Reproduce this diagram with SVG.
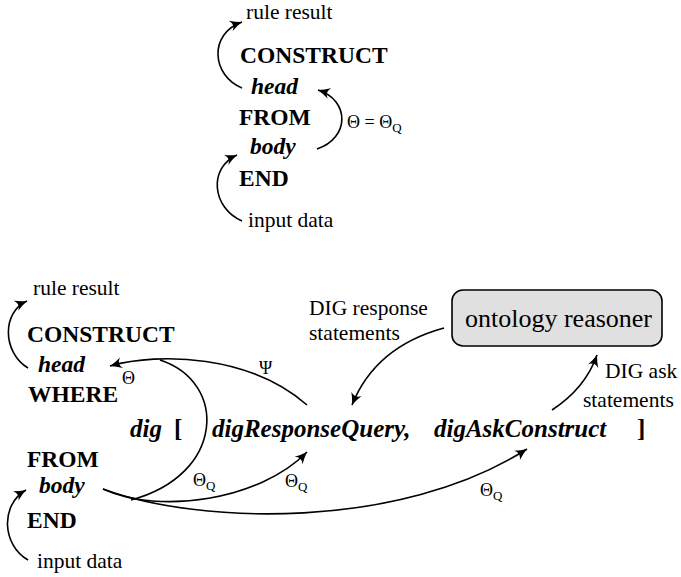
<svg xmlns="http://www.w3.org/2000/svg" width="681" height="577" viewBox="0 0 681 577" font-family="'Liberation Serif', 'Times New Roman', serif">
<defs>
<marker id="ah" markerWidth="14" markerHeight="12" refX="12" refY="6" orient="auto" markerUnits="userSpaceOnUse">
<path d="M0,0.5 Q6,4 12,6 Q6,8 0,11.5 Q5,6 0,0.5 Z" fill="#000"/>
</marker>
<style>
text{font-family:'Liberation Serif','Times New Roman',serif;fill:#000}
.kw{font-size:23.5px;font-weight:bold}
.var{font-size:23.5px;font-weight:bold;font-style:italic}
.dl{font-size:25px;font-weight:bold;font-style:italic}
.dlb{font-size:25px;font-weight:bold}
.lbl{font-size:21.5px}
.sym{font-size:18px}
.sub{font-size:13px}
.box{font-size:26px}
.c{fill:none;stroke:#000;stroke-width:1.6}
.a{fill:none;stroke:#000;stroke-width:1.6;marker-end:url(#ah)}
</style>
</defs>
<g id="rule-top">
<text class="lbl" x="246" y="19">rule result</text>
<text class="kw" x="240" y="63">CONSTRUCT</text>
<text class="var" x="251" y="94">head</text>
<text class="kw" x="239" y="125">FROM</text>
<text class="var" x="250" y="154">body</text>
<text class="kw" x="239" y="186">END</text>
<text class="lbl" x="248" y="227">input data</text>
<text class="sym" x="347" y="128">Θ = Θ<tspan class="sub" dy="4">Q</tspan></text>
</g>
<g id="rule-bottom">
<text class="lbl" x="33" y="295">rule result</text>
<text class="kw" x="27" y="342">CONSTRUCT</text>
<text class="var" x="38" y="372">head</text>
<text class="kw" x="28" y="402">WHERE</text>
<text class="kw" x="27" y="467">FROM</text>
<text class="var" x="39" y="493">body</text>
<text class="kw" x="27" y="528">END</text>
<text class="lbl" x="37" y="568">input data</text>
</g>
<g id="dig-expr">
<text class="dl" x="130" y="437">dig</text>
<text class="dlb" x="174" y="437">[</text>
<text class="dl" x="212" y="437">digResponseQuery,</text>
<text class="dl" x="434" y="437">digAskConstruct</text>
<text class="dlb" x="637" y="437">]</text>
</g>
<g id="ontology-reasoner">
<rect x="452" y="290" width="210" height="56" rx="11" ry="11" fill="#e0e0e0" stroke="#000" stroke-width="1.6"/>
<text class="box" x="465" y="327">ontology reasoner</text>
</g>
<g id="labels">
<text class="lbl" x="309" y="315">DIG response</text>
<text class="lbl" x="309" y="340">statements</text>
<text class="lbl" x="605" y="378">DIG ask</text>
<text class="lbl" x="583" y="407">statements</text>
<text class="sym" x="122" y="384">Θ</text>
<text class="sym" x="259" y="374">Ψ</text>
<text class="sym" x="193" y="486">Θ<tspan class="sub" dy="4">Q</tspan></text>
<text class="sym" x="285" y="487">Θ<tspan class="sub" dy="4">Q</tspan></text>
<text class="sym" x="480" y="496">Θ<tspan class="sub" dy="4">Q</tspan></text>
</g>
<g id="connectors">
<path class="a" d="M242,88 C212,76 208,34 242,22"/>
<path class="a" d="M317,149 C350,138 350,100 318,90"/>
<path class="a" d="M242,221 C212,208 208,168 237,155"/>
<path class="a" d="M28,368 C2,352 2,312 27,301"/>
<path class="a" d="M28,560 C2,545 0,505 26,490"/>
<path class="a" d="M307,405 C250,355 160,352 110,366"/>
<path class="c" d="M160,360 C228,382 225,475 131,500"/>
<path class="a" d="M103,489 C160,515 260,500 307,452"/>
<path class="a" d="M103,489 C200,525 400,530 527,449"/>
<path class="a" d="M444,328 C400,340 368,365 352,405"/>
<path class="a" d="M552,410 C575,395 590,375 597,355"/>
</g>
</svg>
